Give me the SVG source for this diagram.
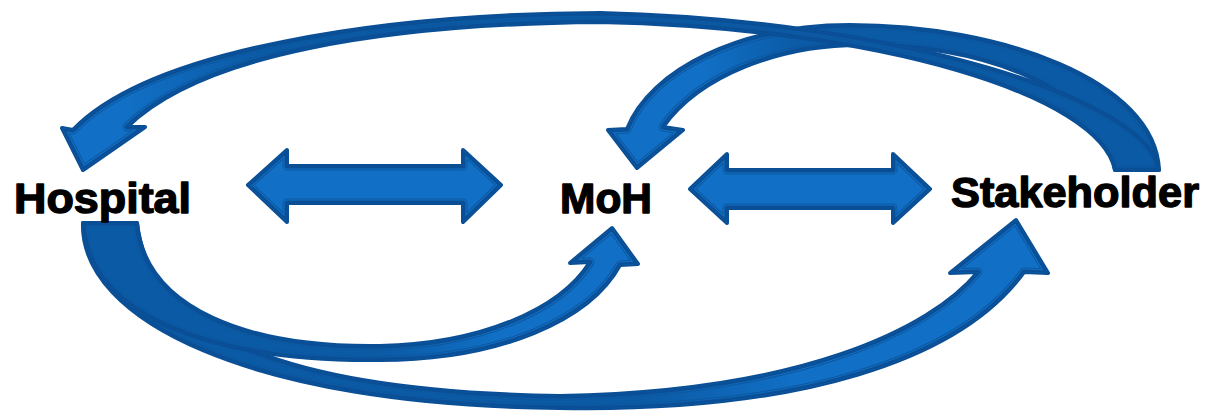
<svg xmlns="http://www.w3.org/2000/svg" width="1211" height="413" viewBox="0 0 1211 413">
<style>
.lbl{font-family:"Liberation Sans",Arial,sans-serif;font-weight:bold;font-size:43px;fill:#000;stroke:#000;stroke-width:1.4;stroke-linejoin:round}
.body{stroke:#0a4f96;stroke-width:4;stroke-linejoin:round}
.l1{fill:none;stroke:#0c579f;stroke-width:9;stroke-linejoin:round}
.l2{fill:none;stroke-width:7;stroke-linejoin:round}
.l3{fill:none;stroke:#0a4f96;stroke-width:5;stroke-linejoin:round}
</style>
<defs>
<linearGradient id="gA" gradientUnits="userSpaceOnUse" x1="120" y1="0" x2="260" y2="0"><stop offset="0" stop-color="#1170c6"/><stop offset="1" stop-color="#0b5aa5"/></linearGradient>
<linearGradient id="gB" gradientUnits="userSpaceOnUse" x1="700" y1="0" x2="800" y2="0"><stop offset="0" stop-color="#1170c6"/><stop offset="1" stop-color="#0b5aa5"/></linearGradient>
<linearGradient id="gC" gradientUnits="userSpaceOnUse" x1="380" y1="0" x2="500" y2="0"><stop offset="0" stop-color="#0b5aa5"/><stop offset="1" stop-color="#1170c6"/></linearGradient>
<linearGradient id="gD" gradientUnits="userSpaceOnUse" x1="640" y1="0" x2="800" y2="0"><stop offset="0" stop-color="#0b5aa5"/><stop offset="1" stop-color="#1170c6"/></linearGradient>
<path id="pA" d="M1115,170 L1159,170 C1150,100 900,20 600,13 C380,14 150,50 73,130 L62,128 L83,170 L145,127 L127,127 C200,55 380,24 600,22 C880,28 1100,95 1115,170 Z"/>
<path id="pB" d="M1115,170 L1159,170 C1155,80 1000,25 850,25 C740,25 650,70 627,129 L608,130 L637,168 L683,130 L663,127 C700,75 780,45 860,45 C990,45 1100,90 1115,170 Z"/>
<path id="pC" d="M83,223 L137,223 C145,310 250,348 380,346 C480,344 560,310 590,262 L570,263 L612,228 L638,264 L620,265 C590,320 500,360 380,360 C220,362 88,320 83,223 Z"/>
<path id="pD" d="M83,223 L137,223 C150,340 300,392 560,396 C800,392 930,330 978,272 L950,273 L1016,220 L1048,273 L1024,272 C960,360 800,412 560,408 C250,405 80,320 83,223 Z"/>
<path id="pE" d="M248,185 L287,150 L287,166 L463,166 L463,150 L501,185 L463,222 L463,203 L287,203 L287,222 Z"/>
<path id="pF" d="M690,189 L727,154 L727,170 L893,170 L893,154 L930,189 L893,223 L893,208 L727,208 L727,223 Z"/>
<clipPath id="cA"><use href="#pA"/></clipPath>
<clipPath id="cB"><use href="#pB"/></clipPath>
<clipPath id="cC"><use href="#pC"/></clipPath>
<clipPath id="cD"><use href="#pD"/></clipPath>
<clipPath id="cE"><use href="#pE"/></clipPath>
<clipPath id="cF"><use href="#pF"/></clipPath>
</defs>
<g id="connectors">
<g id="hospital-to-stakeholder">
<use href="#pD" class="body" fill="url(#gD)"/>
<g clip-path="url(#cD)"><use href="#pD" class="l1"/><use href="#pD" class="l2" stroke="url(#gD)"/><use href="#pD" class="l3"/></g>
</g>
<g id="hospital-to-moh">
<use href="#pC" class="body" fill="url(#gC)"/>
<g clip-path="url(#cC)"><use href="#pC" class="l1"/><use href="#pC" class="l2" stroke="url(#gC)"/><use href="#pC" class="l3"/></g>
</g>
<g id="stakeholder-to-moh">
<use href="#pB" class="body" fill="url(#gB)"/>
<g clip-path="url(#cB)"><use href="#pB" class="l1"/><use href="#pB" class="l2" stroke="url(#gB)"/><use href="#pB" class="l3"/></g>
</g>
<g id="stakeholder-to-hospital">
<use href="#pA" class="body" fill="url(#gA)"/>
<g clip-path="url(#cA)"><use href="#pA" class="l1"/><use href="#pA" class="l2" stroke="url(#gA)"/><use href="#pA" class="l3"/></g>
</g>
<g id="hospital-moh">
<use href="#pE" class="body" fill="#1170c6"/>
<g clip-path="url(#cE)"><use href="#pE" class="l1"/><use href="#pE" class="l2" stroke="#1170c6"/><use href="#pE" class="l3"/></g>
</g>
<g id="moh-stakeholder">
<use href="#pF" class="body" fill="#1170c6"/>
<g clip-path="url(#cF)"><use href="#pF" class="l1"/><use href="#pF" class="l2" stroke="#1170c6"/><use href="#pF" class="l3"/></g>
</g>
</g>
<g id="hospital"><text class="lbl" x="14" y="213" textLength="177" lengthAdjust="spacingAndGlyphs">Hospital</text></g>
<g id="moh"><text class="lbl" x="560" y="213" textLength="92" lengthAdjust="spacingAndGlyphs">MoH</text></g>
<g id="stakeholder"><text class="lbl" x="951" y="207" textLength="248" lengthAdjust="spacingAndGlyphs">Stakeholder</text></g>
</svg>
